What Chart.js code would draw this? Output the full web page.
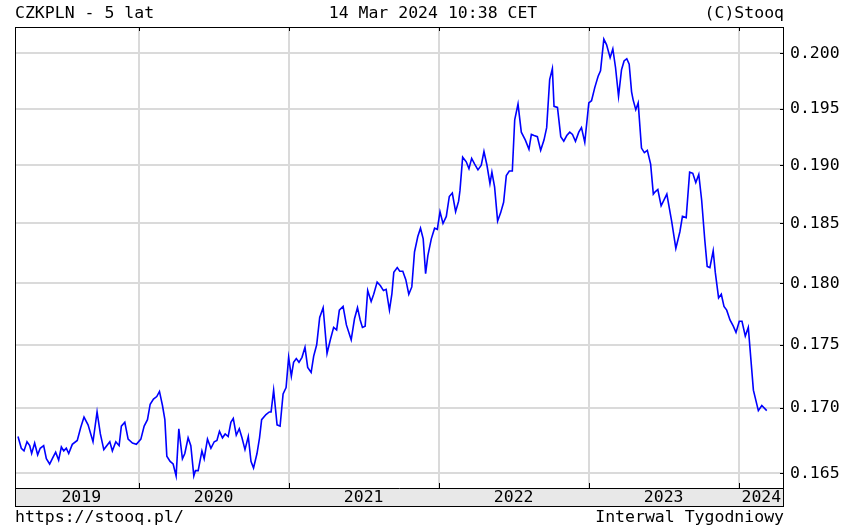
<!DOCTYPE html>
<html>
<head>
<meta charset="utf-8">
<script src="https://cdn.jsdelivr.net/npm/chart.js@4/dist/chart.umd.min.js"></script>
<style>
  html, body { margin: 0; padding: 0; background: #fff; }
  canvas { display: block; }
</style>
</head>
<body>
<canvas id="chart" width="844" height="530"></canvas>
<script>
// weekly CZKPLN closes, x as decimal year
const dates = [
  2019.196, 2019.218, 2019.236, 2019.256, 2019.274, 2019.287, 2019.307, 2019.327, 2019.344, 2019.367,
  2019.385, 2019.407, 2019.429, 2019.447, 2019.467, 2019.485, 2019.501, 2019.518, 2019.534, 2019.558,
  2019.591, 2019.614, 2019.636, 2019.663, 2019.696, 2019.723, 2019.745, 2019.768, 2019.808, 2019.825,
  2019.848, 2019.870, 2019.885, 2019.908, 2019.930, 2019.959, 2019.985, 2020.015,
  2020.037, 2020.059, 2020.077, 2020.099, 2020.121, 2020.139, 2020.159, 2020.175, 2020.188, 2020.210,
  2020.230, 2020.250, 2020.268, 2020.292, 2020.308, 2020.330, 2020.348, 2020.368, 2020.379, 2020.397,
  2020.422, 2020.437, 2020.459, 2020.482, 2020.504, 2020.522, 2020.539, 2020.559, 2020.577, 2020.597,
  2020.615, 2020.631, 2020.651, 2020.671, 2020.689, 2020.709, 2020.731, 2020.749, 2020.766, 2020.789,
  2020.806, 2020.820, 2020.849, 2020.871, 2020.883, 2020.900, 2020.923, 2020.943, 2020.963, 2020.983,
  2021.000, 2021.018, 2021.033, 2021.051, 2021.069, 2021.089, 2021.109, 2021.127, 2021.150, 2021.167,
  2021.187, 2021.207, 2021.230, 2021.256, 2021.278, 2021.300, 2021.320, 2021.338, 2021.363, 2021.385,
  2021.417, 2021.439, 2021.459, 2021.477, 2021.492, 2021.510, 2021.527, 2021.550, 2021.567, 2021.590,
  2021.612, 2021.632, 2021.650, 2021.672, 2021.688, 2021.701, 2021.724, 2021.741, 2021.761, 2021.781,
  2021.801, 2021.821, 2021.839, 2021.861, 2021.879, 2021.897, 2021.913, 2021.928, 2021.951, 2021.973,
  2021.991,
  2022.009, 2022.029, 2022.051, 2022.071, 2022.091, 2022.113, 2022.133, 2022.142, 2022.160, 2022.184,
  2022.202, 2022.220, 2022.240, 2022.262, 2022.284, 2022.302, 2022.322, 2022.342, 2022.355, 2022.373,
  2022.393, 2022.413, 2022.433, 2022.451, 2022.471, 2022.491, 2022.507, 2022.529, 2022.551, 2022.578,
  2022.602, 2022.618, 2022.636, 2022.658, 2022.680, 2022.702, 2022.720, 2022.740, 2022.758, 2022.769,
  2022.792, 2022.814, 2022.834, 2022.854, 2022.874, 2022.892, 2022.912, 2022.934, 2022.952, 2022.974,
  2023.001, 2023.019, 2023.041, 2023.063, 2023.079, 2023.101, 2023.119, 2023.143, 2023.161, 2023.179,
  2023.199, 2023.219, 2023.236, 2023.254, 2023.270, 2023.286, 2023.296, 2023.314, 2023.330, 2023.352,
  2023.371, 2023.391, 2023.413, 2023.431, 2023.443, 2023.461, 2023.483, 2023.521, 2023.553, 2023.581,
  2023.608, 2023.625, 2023.650, 2023.673, 2023.694, 2023.714, 2023.734, 2023.753, 2023.774, 2023.790,
  2023.808, 2023.830, 2023.844, 2023.866, 2023.884, 2023.902, 2023.920, 2023.942, 2023.964, 2023.982,
  2024.004, 2024.022, 2024.044, 2024.064, 2024.098, 2024.131, 2024.154, 2024.187
];
const rates = [
  0.1678, 0.1669, 0.1667, 0.1674, 0.1671, 0.1665, 0.1673, 0.1664, 0.1669, 0.1671,
  0.1661, 0.1657, 0.1662, 0.1666, 0.1660, 0.1670, 0.1667, 0.1669, 0.1665, 0.1672,
  0.1675, 0.1685, 0.1693, 0.1687, 0.1674, 0.1697, 0.1680, 0.1668, 0.1674, 0.1667,
  0.1674, 0.1671, 0.1686, 0.1689, 0.1676, 0.1673, 0.1672, 0.1676,
  0.1686, 0.1691, 0.1703, 0.1707, 0.1709, 0.1713, 0.1702, 0.1691, 0.1663, 0.1659,
  0.1657, 0.1648, 0.1684, 0.1661, 0.1665, 0.1677, 0.1671, 0.1648, 0.1652, 0.1652,
  0.1667, 0.1661, 0.1676, 0.1669, 0.1674, 0.1675, 0.1682, 0.1677, 0.1680, 0.1678,
  0.1689, 0.1692, 0.1679, 0.1684, 0.1677, 0.1668, 0.1678, 0.1659, 0.1654, 0.1665,
  0.1677, 0.1691, 0.1695, 0.1697, 0.1697, 0.1714, 0.1687, 0.1686, 0.1711, 0.1716,
  0.1740, 0.1725, 0.1736, 0.1739, 0.1736, 0.1740, 0.1748, 0.1732, 0.1728, 0.1741,
  0.1750, 0.1772, 0.1780, 0.1743, 0.1754, 0.1764, 0.1762, 0.1778, 0.1781, 0.1766,
  0.1754, 0.1771, 0.1780, 0.1770, 0.1764, 0.1765, 0.1794, 0.1785, 0.1791, 0.1801,
  0.1798, 0.1794, 0.1795, 0.1778, 0.1791, 0.1809, 0.1813, 0.1810, 0.1810, 0.1803,
  0.1791, 0.1797, 0.1826, 0.1839, 0.1846, 0.1837, 0.1808, 0.1823, 0.1837, 0.1846,
  0.1845,
  0.1860, 0.1850, 0.1856, 0.1873, 0.1876, 0.1860, 0.1869, 0.1878, 0.1907, 0.1903,
  0.1897, 0.1906, 0.1901, 0.1896, 0.1900, 0.1912, 0.1900, 0.1884, 0.1894, 0.1881,
  0.1852, 0.1859, 0.1868, 0.1891, 0.1895, 0.1895, 0.1940, 0.1954, 0.1929, 0.1922,
  0.1914, 0.1927, 0.1926, 0.1925, 0.1913, 0.1922, 0.1933, 0.1976, 0.1986, 0.1952,
  0.1951, 0.1925, 0.1921, 0.1926, 0.1929, 0.1927, 0.1921, 0.1929, 0.1933, 0.1920,
  0.1955, 0.1957, 0.1969, 0.1979, 0.1984, 0.2013, 0.2008, 0.1996, 0.2004, 0.1987,
  0.1961, 0.1985, 0.1993, 0.1995, 0.1990, 0.1965, 0.1958, 0.1949, 0.1955, 0.1915,
  0.1911, 0.1913, 0.1901, 0.1875, 0.1877, 0.1879, 0.1865, 0.1875, 0.1852, 0.1829,
  0.1843, 0.1856, 0.1855, 0.1894, 0.1893, 0.1885, 0.1892, 0.1870, 0.1836, 0.1814,
  0.1813, 0.1827, 0.1809, 0.1788, 0.1791, 0.1781, 0.1778, 0.1770, 0.1765, 0.1760,
  0.1769, 0.1769, 0.1757, 0.1764, 0.1714, 0.1698, 0.1702, 0.1698
];

// axes
const yearBounds = [2020, 2021, 2022, 2023, 2024];
const yearLabels = ['2019', '2020', '2021', '2022', '2023', '2024'];
const rateTicks = [0.165, 0.170, 0.175, 0.180, 0.185, 0.190, 0.195, 0.200];
const xMin = 2019.176;
const xMax = 2024.302;
const yMin = 0.16389;
const yMax = 0.20242;

const titleLeft = 'CZKPLN - 5 lat';
const titleMid = '14 Mar 2024 10:38 CET';
const titleRight = '(C)Stooq';
const footLeft = 'https://stooq.pl/';
const footRight = 'Interwal Tygodniowy';

const font = '16.5px "DejaVu Sans Mono", "Liberation Mono", monospace';
const bandH = 18;

const decor = {
  id: 'decor',
  afterDraw(chart) {
    const ctx = chart.ctx;
    const area = chart.chartArea;
    const xs = chart.scales.x;
    const ys = chart.scales.y;
    ctx.save();

    // year band under the plot
    ctx.fillStyle = '#e8e8e8';
    ctx.fillRect(area.left, area.bottom, area.right - area.left, bandH);
    ctx.strokeStyle = '#000';
    ctx.lineWidth = 1;
    ctx.strokeRect(area.left + 0.5, area.top + 0.5, area.right - area.left - 1, area.bottom + bandH - area.top);
    ctx.beginPath();
    ctx.moveTo(area.left, area.bottom + 0.5);
    ctx.lineTo(area.right, area.bottom + 0.5);
    ctx.stroke();

    // year ticks, top and bottom of the plot
    ctx.beginPath();
    yearBounds.forEach(yr => {
      const px = Math.round(xs.getPixelForValue(yr)) + 0.5;
      ctx.moveTo(px, area.top);
      ctx.lineTo(px, area.top + 4);
      ctx.moveTo(px, area.bottom - 5);
      ctx.lineTo(px, area.bottom);
    });
    // rate ticks
    rateTicks.forEach(v => {
      const py = Math.round(ys.getPixelForValue(v)) + 0.5;
      ctx.moveTo(area.right - 4, py);
      ctx.lineTo(area.right, py);
    });
    ctx.stroke();

    ctx.font = font;
    ctx.fillStyle = '#000';
    ctx.textBaseline = 'middle';

    // year labels
    ctx.textAlign = 'center';
    const edges = [dates[0]].concat(yearBounds, [xMax]);
    yearLabels.forEach((lab, i) => {
      const a = xs.getPixelForValue(edges[i]);
      const b = xs.getPixelForValue(edges[i + 1]);
      ctx.fillText(lab, (a + b) / 2 + (i === 0 ? 3 : 0), area.bottom + bandH / 2 + 1);
    });

    // rate labels
    ctx.textAlign = 'left';
    rateTicks.forEach(v => {
      ctx.fillText(v.toFixed(3), area.right + 6, ys.getPixelForValue(v));
    });

    // header and footer
    ctx.fillText(titleLeft, area.left, 14);
    ctx.fillText(footLeft, area.left, 518);
    ctx.textAlign = 'center';
    ctx.fillText(titleMid, 433, 14);
    ctx.textAlign = 'right';
    ctx.fillText(titleRight, area.right, 14);
    ctx.fillText(footRight, area.right, 518);

    ctx.restore();
  }
};

const chart = new Chart(document.getElementById('chart'), {
  type: 'line',
  data: {
    datasets: [{
      data: dates.map((d, i) => ({ x: d, y: rates[i] })),
      borderColor: '#0000ff',
      borderWidth: 1.6,
      pointRadius: 0,
      tension: 0,
      fill: false
    }]
  },
  options: {
    responsive: false,
    animation: false,
    devicePixelRatio: 1,
    layout: { padding: { left: 15, top: 27, right: 60, bottom: 42 } },
    plugins: {
      legend: { display: false },
      tooltip: { enabled: false }
    },
    scales: {
      x: {
        type: 'linear',
        min: xMin,
        max: xMax,
        afterBuildTicks: s => { s.ticks = yearBounds.map(v => ({ value: v })); },
        ticks: { display: false },
        grid: { color: '#dadada', lineWidth: 2, drawTicks: false },
        border: { display: false }
      },
      y: {
        type: 'logarithmic',
        position: 'right',
        min: yMin,
        max: yMax,
        afterBuildTicks: s => { s.ticks = rateTicks.map(v => ({ value: v })); },
        ticks: { display: false },
        grid: { color: '#dadada', lineWidth: 2, drawTicks: false },
        border: { display: false }
      }
    }
  },
  plugins: [decor]
});
</script>
</body>
</html>
